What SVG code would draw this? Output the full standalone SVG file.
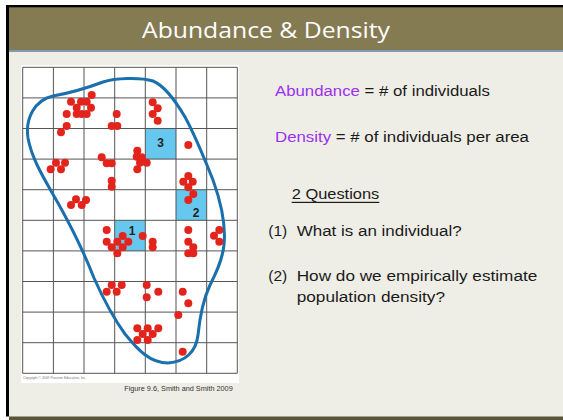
<svg xmlns="http://www.w3.org/2000/svg" width="563" height="420" viewBox="0 0 563 420">
<style>
.txt{font-family:"Liberation Sans","Open Sans",sans-serif;font-size:15.5px;fill:#1a1a1a}
.pur{fill:#9b30f0}
.grid line{stroke:#555;stroke-width:1}
.cell{fill:#66c8ee}
.lbl{font-family:"Liberation Sans",sans-serif;font-size:12px;font-weight:bold;fill:#222;text-anchor:middle}
.dots circle{fill:#e3241c}
</style>
<rect x="0" y="0" width="563" height="420" fill="#ffffff"/>
<rect x="9" y="7" width="554" height="410" fill="#efeee6"/>
<rect x="9" y="7" width="554" height="43" fill="#847b52"/>
<rect x="9" y="50" width="554" height="2" fill="#7f9bb0"/>
<rect x="9" y="416.5" width="554" height="3.5" fill="#5a5538"/>
<rect x="6" y="5" width="557" height="2.3" fill="#000"/>
<rect x="6" y="5" width="3" height="411.5" fill="#000"/>
<g id="title">
<text x="266" y="37.5" font-family="'Open Sans','Liberation Sans',sans-serif" font-size="22" fill="#ffffff" text-anchor="middle" textLength="248" lengthAdjust="spacingAndGlyphs">Abundance &amp; Density</text>
</g>
<g id="figure">
<rect x="21" y="65" width="218" height="318" fill="#ffffff"/>
<rect class="cell" x="145.3" y="128.5" width="30.7" height="30.6"/>
<rect class="cell" x="176" y="189.7" width="30.7" height="30.6"/>
<rect class="cell" x="114.7" y="220.3" width="30.6" height="30.6"/>
<g class="grid">
<line x1="22.7" y1="67.3" x2="22.7" y2="373.3"/>
<line x1="53.4" y1="67.3" x2="53.4" y2="373.3"/>
<line x1="84" y1="67.3" x2="84" y2="373.3"/>
<line x1="114.7" y1="67.3" x2="114.7" y2="373.3"/>
<line x1="145.3" y1="67.3" x2="145.3" y2="373.3"/>
<line x1="176" y1="67.3" x2="176" y2="373.3"/>
<line x1="206.7" y1="67.3" x2="206.7" y2="373.3"/>
<line x1="237.3" y1="67.3" x2="237.3" y2="373.3"/>
<line x1="22.7" y1="67.3" x2="237.3" y2="67.3"/>
<line x1="22.7" y1="97.9" x2="237.3" y2="97.9"/>
<line x1="22.7" y1="128.5" x2="237.3" y2="128.5"/>
<line x1="22.7" y1="159.1" x2="237.3" y2="159.1"/>
<line x1="22.7" y1="189.7" x2="237.3" y2="189.7"/>
<line x1="22.7" y1="220.3" x2="237.3" y2="220.3"/>
<line x1="22.7" y1="250.9" x2="237.3" y2="250.9"/>
<line x1="22.7" y1="281.5" x2="237.3" y2="281.5"/>
<line x1="22.7" y1="312.1" x2="237.3" y2="312.1"/>
<line x1="22.7" y1="342.7" x2="237.3" y2="342.7"/>
<line x1="22.7" y1="373.3" x2="237.3" y2="373.3"/>
</g>
<text class="lbl" x="160.5" y="147">3</text>
<text class="lbl" x="196" y="217">2</text>
<text class="lbl" x="132" y="235">1</text>
<path d="M53,96 C70,93 87,88 103,82 C115,78 140,77 153,81 C165,86 175,100 185,117 C195,135 205,160 213,180 C222,205 226,225 224,245 C222,262 215,275 210,285 C203,300 200,315 198,335 C196,352 185,362 168,363 C150,363 138,350 125,334 C112,316 102,296 94,278 C85,255 72,228 58,203 C45,180 32,160 28,138 C25,118 35,100 53,96 Z" fill="none" stroke="#1a6fad" stroke-width="3"/>
<g class="dots">
<circle cx="91.7" cy="95" r="4"/>
<circle cx="71" cy="101.7" r="4"/>
<circle cx="81" cy="101.7" r="4"/>
<circle cx="86.7" cy="101.7" r="4"/>
<circle cx="76.7" cy="107.7" r="4"/>
<circle cx="91" cy="107.7" r="4"/>
<circle cx="66.7" cy="114" r="4"/>
<circle cx="76.7" cy="114" r="4"/>
<circle cx="81.7" cy="114" r="4"/>
<circle cx="86.7" cy="114" r="4"/>
<circle cx="116.7" cy="114" r="4"/>
<circle cx="66.7" cy="126" r="4"/>
<circle cx="61" cy="132.3" r="4"/>
<circle cx="111.7" cy="126" r="4"/>
<circle cx="117.3" cy="126" r="4"/>
<circle cx="152.7" cy="102.3" r="4"/>
<circle cx="157.7" cy="108.3" r="4"/>
<circle cx="152.7" cy="114" r="4"/>
<circle cx="157.7" cy="120.7" r="4"/>
<circle cx="188.3" cy="145" r="4"/>
<circle cx="137.3" cy="150.7" r="4"/>
<circle cx="136.7" cy="156.7" r="4"/>
<circle cx="141.7" cy="157.3" r="4"/>
<circle cx="146.7" cy="162.7" r="4"/>
<circle cx="140" cy="162.7" r="4"/>
<circle cx="137.3" cy="169.3" r="4"/>
<circle cx="101.7" cy="157.3" r="4"/>
<circle cx="106.7" cy="163.3" r="4"/>
<circle cx="111.7" cy="163.3" r="4"/>
<circle cx="56" cy="162.7" r="4"/>
<circle cx="65" cy="162.7" r="4"/>
<circle cx="50.7" cy="169.3" r="4"/>
<circle cx="61" cy="169.3" r="4"/>
<circle cx="111.7" cy="180.7" r="4"/>
<circle cx="111.7" cy="186.7" r="4"/>
<circle cx="188.3" cy="176" r="4"/>
<circle cx="183.3" cy="181.7" r="4"/>
<circle cx="192.7" cy="181.7" r="4"/>
<circle cx="188.3" cy="187.3" r="4"/>
<circle cx="193.3" cy="194" r="4"/>
<circle cx="188.3" cy="200" r="4"/>
<circle cx="76" cy="199.3" r="4"/>
<circle cx="86" cy="200" r="4"/>
<circle cx="71" cy="205" r="4"/>
<circle cx="81.7" cy="205" r="4"/>
<circle cx="106.7" cy="230" r="4"/>
<circle cx="142.7" cy="236" r="4"/>
<circle cx="122.7" cy="236" r="4"/>
<circle cx="106.7" cy="241.7" r="4"/>
<circle cx="117.3" cy="241.7" r="4"/>
<circle cx="128.3" cy="241.7" r="4"/>
<circle cx="111.7" cy="247.3" r="4"/>
<circle cx="122.7" cy="247.3" r="4"/>
<circle cx="117.3" cy="253.3" r="4"/>
<circle cx="152.7" cy="241.7" r="4"/>
<circle cx="152.7" cy="247.3" r="4"/>
<circle cx="188.3" cy="230" r="4"/>
<circle cx="188.3" cy="241.7" r="4"/>
<circle cx="193.3" cy="247.3" r="4"/>
<circle cx="188.3" cy="253.3" r="4"/>
<circle cx="193.3" cy="253.3" r="4"/>
<circle cx="219.3" cy="230" r="4"/>
<circle cx="214" cy="235.7" r="4"/>
<circle cx="219.3" cy="241.7" r="4"/>
<circle cx="111.7" cy="285" r="4"/>
<circle cx="121.7" cy="285" r="4"/>
<circle cx="106.7" cy="291.7" r="4"/>
<circle cx="116.7" cy="291.7" r="4"/>
<circle cx="146.7" cy="285" r="4"/>
<circle cx="158.3" cy="291.7" r="4"/>
<circle cx="146.7" cy="297.3" r="4"/>
<circle cx="182.7" cy="291.7" r="4"/>
<circle cx="188.3" cy="303.3" r="4"/>
<circle cx="178.3" cy="315" r="4"/>
<circle cx="137.3" cy="328.3" r="4"/>
<circle cx="147.7" cy="328.3" r="4"/>
<circle cx="158.3" cy="328.3" r="4"/>
<circle cx="142.7" cy="334" r="4"/>
<circle cx="152.7" cy="334" r="4"/>
<circle cx="137.3" cy="340" r="4"/>
<circle cx="147.7" cy="340" r="4"/>
<circle cx="182.7" cy="351.7" r="4"/>
</g>
<text x="23" y="379" font-family="'Liberation Sans',sans-serif" font-size="3.4" fill="#777">Copyright © 2009 Pearson Education, Inc.</text>
</g>
<g id="caption">
<text x="232.7" y="390.5" font-family="'Liberation Sans',sans-serif" font-size="7.2" fill="#333" text-anchor="end" textLength="108.5" lengthAdjust="spacingAndGlyphs">Figure 9.6, Smith and Smith 2009</text>
</g>
<g id="definitions">
<text class="txt" x="275" y="96" textLength="215" lengthAdjust="spacingAndGlyphs"><tspan class="pur">Abundance</tspan> = # of individuals</text>
<text class="txt" x="275" y="141.7" textLength="254" lengthAdjust="spacingAndGlyphs"><tspan class="pur">Density</tspan> = # of individuals per area</text>
</g>
<g id="questions">
<text class="txt" x="291.7" y="199.3" textLength="87.6" lengthAdjust="spacingAndGlyphs">2 Questions</text>
<rect x="291.7" y="201.8" width="87.6" height="1.2" fill="#1a1a1a"/>
<text class="txt" x="268.3" y="236">(1)</text>
<text class="txt" x="296.7" y="236" textLength="165" lengthAdjust="spacingAndGlyphs">What is an individual?</text>
<text class="txt" x="268.3" y="280.7">(2)</text>
<text class="txt" x="296.7" y="280.7" textLength="240.6" lengthAdjust="spacingAndGlyphs">How do we empirically estimate</text>
<text class="txt" x="296.7" y="301.7" textLength="148.3" lengthAdjust="spacingAndGlyphs">population density?</text>
</g>
</svg>
